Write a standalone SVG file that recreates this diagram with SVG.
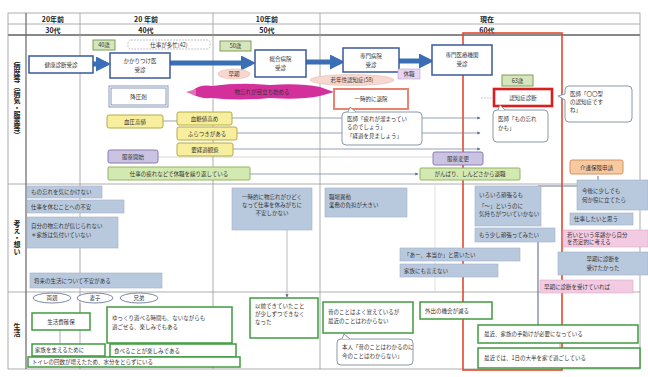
<svg xmlns="http://www.w3.org/2000/svg" width="648" height="377" viewBox="0 0 648 377">
<defs>
<style>
text{font-family:"Noto Sans CJK JP","Noto Sans",sans-serif;font-size:5.5px;fill:#333}
.hd{font-size:7px;font-weight:bold;fill:#222}
.vt{font-size:7px;font-weight:bold;fill:#222;writing-mode:vertical-rl;text-orientation:upright}
.grid{stroke:#9a9a9a;stroke-width:0.8;fill:none}
.node{fill:#fff;stroke:#3a5a9a;stroke-width:1.5}
.tag{fill:#d6e6bc;stroke:#7f9d55;stroke-width:1}
.pink{fill:#f6d8d0;stroke:#e8b8b0;stroke-width:0.6}
.yel{fill:#f7ef9e;stroke:#b5ab45;stroke-width:1}
.pur{fill:#cbc3e2;stroke:#8a7cb3;stroke-width:1}
.grn{fill:#d3e9b2;stroke:#93b463;stroke-width:1}
.blu{fill:#b9c9dd;stroke:#a0b0c8;stroke-width:0.6}
.pk2{fill:#f2cae2;stroke:#e0a8c8;stroke-width:0.6}
.gbox{fill:#fff;stroke:#3f9a3f;stroke-width:1.5}
.bub{fill:#fff;stroke:#8898a8;stroke-width:1}
.conn{stroke:#7a8aa8;stroke-width:0.8;fill:none}
</style>
<marker id="ah" viewBox="0 0 6 6" refX="5" refY="3" markerWidth="4" markerHeight="4" orient="auto"><path d="M0,0L6,3L0,6z" fill="#5a6a90"/></marker>
<marker id="bh" viewBox="0 0 6 6" refX="4" refY="3" markerWidth="3" markerHeight="3" orient="auto"><path d="M0,0L6,3L0,6z" fill="#3a6fb5"/></marker>
</defs>
<rect width="648" height="377" fill="#fff"/>

<!-- grid -->
<g id="grid">
<rect x="8" y="13" width="632" height="356" class="grid" stroke-width="1.2"/>
<line x1="8" y1="24" x2="640" y2="24" class="grid"/>
<line x1="8" y1="35" x2="640" y2="35" stroke="#888" stroke-width="2"/>
<line x1="8" y1="184" x2="640" y2="184" class="grid"/>
<line x1="8" y1="292" x2="640" y2="292" class="grid"/>
<line x1="26" y1="13" x2="26" y2="369" stroke="#666" stroke-width="1.2"/>
<line x1="80" y1="13" x2="80" y2="369" class="grid"/>
<line x1="213" y1="13" x2="213" y2="369" class="grid"/>
<line x1="320" y1="13" x2="320" y2="369" class="grid"/>
<line x1="435" y1="184" x2="435" y2="292" stroke="#ccc" stroke-width="0.6"/>
<text x="53" y="22" class="hd" text-anchor="middle">20年前</text>
<text x="53" y="33" class="hd" text-anchor="middle">30代</text>
<text x="146" y="22" class="hd" text-anchor="middle">20 年前</text>
<text x="146" y="33" class="hd" text-anchor="middle">40代</text>
<text x="267" y="22" class="hd" text-anchor="middle">10年前</text>
<text x="267" y="33" class="hd" text-anchor="middle">50代</text>
<text x="487" y="22" class="hd" text-anchor="middle">現在</text>
<text x="487" y="33" class="hd" text-anchor="middle">60代</text>
<text class="vt" x="17" y="62">病歴等（病気・服薬等）</text>
<text class="vt" x="17" y="220">考え・想い</text>
<text class="vt" x="17" y="323">生活</text>
</g>

<!-- red current frame -->
<rect x="463" y="33" width="99" height="337" fill="none" stroke="#e04a30" stroke-width="1.6"/>

<!-- connectors -->
<g id="connectors">
<line x1="93" y1="64" x2="106" y2="64" stroke="#3a6fb5" stroke-width="5" marker-end="url(#bh)"/>
<line x1="170" y1="63" x2="251" y2="63" stroke="#3a6fb5" stroke-width="5" marker-end="url(#bh)"/>
<line x1="306" y1="62" x2="340" y2="62" stroke="#3a6fb5" stroke-width="5" marker-end="url(#bh)"/>
<line x1="399" y1="61" x2="429" y2="61" stroke="#3a6fb5" stroke-width="5" marker-end="url(#bh)"/>
<line x1="163" y1="121" x2="177" y2="121" class="conn"/>
<line x1="232" y1="118" x2="480" y2="118" class="conn" marker-end="url(#ah)"/>
<line x1="237" y1="133" x2="480" y2="133" class="conn" marker-end="url(#ah)"/>
<line x1="233" y1="149" x2="480" y2="149" class="conn" marker-end="url(#ah)"/>
<line x1="250" y1="174" x2="418" y2="174" class="conn" marker-end="url(#ah)"/>
<line x1="158" y1="157" x2="432" y2="157" stroke="#aaa" stroke-width="0.5"/>
<line x1="481" y1="98" x2="493" y2="98" stroke="#9ab" stroke-width="0.6" stroke-dasharray="2,1"/>
<line x1="538" y1="242" x2="538" y2="325" stroke="#6a7a9a" stroke-width="1.2"/>
<line x1="538" y1="186" x2="598" y2="186" stroke="#6a7a9a" stroke-width="1.2"/>
<line x1="598" y1="186" x2="598" y2="176" stroke="#6a7a9a" stroke-width="1"/>
<line x1="287" y1="230" x2="287" y2="297" stroke="#aaa" stroke-width="0.8" marker-end="url(#ah)"/>
<line x1="80" y1="303" x2="80" y2="313" stroke="#999" stroke-width="0.8"/>
<line x1="60" y1="330" x2="60" y2="345" stroke="#999" stroke-width="0.8"/>
<line x1="560" y1="343" x2="560" y2="348" stroke="#999" stroke-width="0.8"/>
</g>

<!-- row 1 -->
<g id="n_kenshin"><rect x="29" y="56" width="64" height="17" class="node" stroke="#6a7a9a" stroke-width="1"/><text x="61" y="66.5" text-anchor="middle">健康診断受診</text></g>
<g id="n_kakari"><rect x="110" y="53" width="60" height="25" class="node"/><text x="140" y="63" text-anchor="middle">かかりつけ医</text><text x="140" y="72" text-anchor="middle">受診</text></g>
<g id="n_sougou"><rect x="255" y="50" width="51" height="27" class="node"/><text x="280.5" y="61" text-anchor="middle">総合病院</text><text x="280.5" y="70" text-anchor="middle">受診</text></g>
<g id="n_senmon"><rect x="343" y="48" width="56" height="24" class="node"/><text x="371" y="58" text-anchor="middle">専門病院</text><text x="371" y="67" text-anchor="middle">受診</text></g>
<g id="n_gairai"><rect x="432" y="45" width="60" height="30" class="node"/><text x="462" y="57" text-anchor="middle">専門医療機関</text><text x="462" y="66" text-anchor="middle">受診</text></g>

<g id="t_40"><rect x="93" y="40" width="22" height="10" class="tag"/><text x="104" y="47" text-anchor="middle">40歳</text></g>
<g id="t_work"><rect x="128" y="40" width="82" height="9" rx="3" fill="#fff" stroke="#aaa" stroke-width="0.7" stroke-dasharray="2,1"/><text x="169" y="46.8" text-anchor="middle">仕事が多忙(42)</text></g>
<g id="t_50"><rect x="220" y="41" width="31" height="10" class="tag"/><text x="235.5" y="48" text-anchor="middle">50歳</text></g>
<g id="t_63"><rect x="502" y="75" width="31" height="11" class="tag"/><text x="517.5" y="82.5" text-anchor="middle">63歳</text></g>

<g id="o_souki"><ellipse cx="234" cy="74" rx="16" ry="5" class="pink"/><text x="234" y="76" text-anchor="middle">早期</text></g>
<g id="o_jakunen"><ellipse cx="352" cy="80" rx="42" ry="5.5" class="pink"/><text x="352" y="82" text-anchor="middle">若年性認知症(58)</text></g>
<g id="o_seishin"><rect x="398" y="69" width="22" height="10" fill="#e6d6f2" stroke="#b8a0d0" stroke-width="0.6"/><text x="409" y="76" text-anchor="middle">休職</text></g>

<g id="n_flame"><path d="M192,91 Q200,84 212,86 Q240,82 270,85 Q300,83 320,87 L334,92 L320,96 Q300,100 270,98 Q240,101 212,98 Q200,99 192,94 Z" fill="#d4309c"/><path d="M186,92 L196,89 L196,96 Z" fill="#e070b8"/><text x="262" y="94" text-anchor="middle" fill="#fff">物忘れが目立ち始める</text></g>

<g id="n_kouatsu"><rect x="110" y="87" width="57" height="19" fill="#fff" stroke="#8a98b8" stroke-width="3"/><rect x="110" y="87" width="57" height="19" fill="none" stroke="#fff" stroke-width="1"/><text x="138.5" y="98.5" text-anchor="middle">降圧剤</text></g>
<g id="n_taiin"><rect x="334" y="89" width="74" height="20" fill="#fff" stroke="#e9826e" stroke-width="2"/><text x="371" y="101" text-anchor="middle">一時的に退院</text></g>
<g id="n_shindan"><rect x="494" y="89" width="58" height="17" fill="#fff" stroke="#d81e1e" stroke-width="2.6"/><text x="523" y="99.5" text-anchor="middle">認知症診断</text></g>

<g id="b_ishi1"><path d="M569,86 H628 Q632,86 632,90 V118 Q632,122 628,122 H569 Q565,122 565,118 V100 L558,96 L565,94 V90 Q565,86 569,86 Z" class="bub"/><text x="570" y="96">医師「〇〇型</text><text x="570" y="104">の認知症です</text><text x="570" y="112">ね」</text></g>
<g id="b_ishi2"><path d="M497,110 H544 Q548,110 548,114 V138 Q548,142 544,142 H497 Q493,142 493,138 V114 Q493,110 497,110 Z" class="bub"/><path d="M498,110 L500,105 L505,110" class="bub"/><text x="498" y="121">医師「もの忘れ</text><text x="498" y="130">かも」</text></g>
<g id="b_ishi3"><path d="M346,112 H418 Q422,112 422,116 V141 Q422,145 418,145 H346 Q342,145 342,141 V116 Q342,112 346,112 Z" class="bub"/><path d="M348,112 L350,107 L356,112" class="bub"/><text x="347" y="121">医師「疲れが溜まってい</text><text x="347" y="129">るのでしょう」</text><text x="347" y="138">「経過を見ましょう」</text></g>

<g id="y_1"><rect x="107" y="115" width="56" height="13" rx="2" class="yel"/><text x="135" y="123.5" text-anchor="middle">血圧高値</text></g>
<g id="y_2"><rect x="177" y="112" width="55" height="13" rx="2" class="yel"/><text x="204.5" y="120.5" text-anchor="middle">血糖値高め</text></g>
<g id="y_3"><rect x="177" y="127" width="60" height="13" rx="2" class="yel"/><text x="207" y="135.5" text-anchor="middle">ふらつきがある</text></g>
<g id="y_4"><rect x="177" y="143" width="56" height="13" rx="2" class="yel"/><text x="205" y="151.5" text-anchor="middle">要経過観察</text></g>

<g id="p_1"><rect x="108" y="150" width="50" height="13" rx="2" class="pur"/><text x="133" y="158.5" text-anchor="middle">服薬開始</text></g>
<g id="p_2"><rect x="433" y="152" width="50" height="13" rx="2" class="pur"/><text x="458" y="160.5" text-anchor="middle">服薬変更</text></g>
<g id="g_1"><rect x="108" y="167" width="142" height="13" rx="1" class="grn"/><text x="179" y="175.5" text-anchor="middle">仕事の疲れなどで休職を繰り返している</text></g>
<g id="g_2"><rect x="420" y="168" width="100" height="12" rx="1" class="grn"/><text x="470" y="176" text-anchor="middle">がんばり、しんどさから退職</text></g>
<g id="o_kaigo"><rect x="570" y="160" width="53" height="14" rx="2" fill="#f8c9a0" stroke="#d4925e" stroke-width="1"/><text x="596.5" y="169.5" text-anchor="middle">介護保険申請</text></g>

<!-- row 2 -->
<g id="k_1"><rect x="27" y="186" width="75" height="12" class="blu"/><text x="31" y="194">もの忘れを気にかけない</text></g>
<g id="k_2"><rect x="27" y="200" width="97" height="13" class="blu"/><text x="31" y="208.5">仕事を休むことへの不安</text></g>
<g id="k_3"><rect x="27" y="217" width="91" height="31" class="blu"/><text x="31" y="228">自分の物忘れが信じられない</text><text x="31" y="237">＊家族は気付いていない</text></g>
<g id="k_4"><rect x="30" y="273" width="132" height="15" class="blu"/><text x="34" y="282.5">将来の生活について不安がある</text></g>
<g id="k_5"><rect x="232" y="188" width="80" height="42" class="blu"/><text x="272" y="199" text-anchor="middle">一時的に物忘れがひどく</text><text x="272" y="207" text-anchor="middle">なって仕事を休みがちに</text><text x="272" y="215" text-anchor="middle">不安しかない</text></g>
<g id="k_6"><rect x="325" y="188" width="82" height="29" class="blu"/><text x="329" y="199">職場異動</text><text x="329" y="207">業務の負担が大きい</text></g>
<g id="k_7"><rect x="400" y="248" width="120" height="13" class="blu"/><text x="404" y="256.5">「あー、本当か」と思いたい</text></g>
<g id="k_8"><rect x="400" y="264" width="98" height="13" class="blu"/><text x="404" y="272.5">家族にも言えない</text></g>
<g id="k_9"><rect x="475" y="186" width="66" height="40" class="blu"/><text x="479" y="197">いろいろ頑張るも</text><text x="479" y="208">「〜」というのに</text><text x="479" y="216">気持ちがついていかない</text></g>
<g id="k_10"><rect x="475" y="228" width="80" height="14" class="blu"/><text x="479" y="237">もう少し頑張ってみたい</text></g>
<g id="k_11"><rect x="577" y="180" width="71" height="30" class="blu"/><text x="582" y="193">今後に少しでも</text><text x="582" y="202">何か役に立てたら</text></g>
<g id="k_12"><rect x="570" y="213" width="63" height="12" class="blu"/><text x="574" y="221">仕事したいと思う</text></g>
<g id="k_13"><rect x="563" y="230" width="85" height="17" class="pk2"/><text x="567" y="237">若いという年齢から自分</text><text x="567" y="244">を否定的に考える</text></g>
<g id="k_14"><rect x="558" y="252" width="90" height="23" class="blu"/><text x="603" y="261" text-anchor="middle">早期に診断を</text><text x="603" y="270" text-anchor="middle">受けたかった</text></g>
<g id="k_15"><rect x="540" y="280" width="93" height="13" class="pk2"/><text x="544" y="288.5">早期に診断を受けていれば</text></g>

<!-- row 3 -->
<g id="e_1"><ellipse cx="52" cy="298" rx="19" ry="5" fill="#fff" stroke="#6a7a9a" stroke-width="0.9"/><text x="52" y="300" text-anchor="middle">両親</text></g>
<g id="e_2"><ellipse cx="95" cy="298" rx="18" ry="5" fill="#fff" stroke="#6a7a9a" stroke-width="0.9"/><text x="95" y="300" text-anchor="middle">妻子</text></g>
<g id="e_3"><ellipse cx="139" cy="298" rx="19" ry="5" fill="#fff" stroke="#6a7a9a" stroke-width="0.9"/><text x="139" y="300" text-anchor="middle">兄弟</text></g>
<g id="s_1"><rect x="32" y="313" width="58" height="17" class="gbox"/><text x="61" y="323.5" text-anchor="middle">生活費確保</text></g>
<g id="s_2"><rect x="107" y="307" width="125" height="36" class="gbox"/><text x="112" y="320">ゆっくり遊べる時間も、ないながらも</text><text x="112" y="329">過ごせる、楽しみでもある</text></g>
<g id="s_3"><rect x="32" y="344" width="73" height="12" class="gbox"/><text x="35" y="352">家族を支えるために</text></g>
<g id="s_4"><rect x="110" y="344" width="126" height="13" class="gbox"/><text x="114" y="352.5">食べることが楽しみである</text></g>
<g id="s_5"><rect x="28" y="357" width="212" height="10" class="gbox"/><text x="32" y="364">トイレの回数が増えたため、水分をとらずにいる</text></g>
<g id="s_6"><rect x="250" y="298" width="68" height="40" class="gbox"/><text x="255" y="308">以前できていたこと</text><text x="255" y="316">が少しずつできなく</text><text x="255" y="324">なった</text></g>
<g id="s_7"><rect x="323" y="302" width="90" height="31" class="gbox"/><text x="328" y="314">昔のことはよく覚えているが</text><text x="328" y="323">最近のことはわからない</text></g>
<g id="b_honnin"><path d="M341,339 H409 Q413,339 413,343 V361 Q413,365 409,365 H341 Q337,365 337,361 V343 Q337,339 341,339 Z" class="bub"/><path d="M342,339 L344,334 L350,339" class="bub"/><text x="342" y="349">本人「昔のことはわかるのに</text><text x="342" y="358">今のことはわからない」</text></g>
<g id="s_8"><rect x="420" y="302" width="72" height="17" class="gbox"/><text x="425" y="312.5">外出の機会が減る</text></g>
<g id="s_9"><rect x="478" y="325" width="160" height="18" class="gbox"/><text x="484" y="336">最近、家族の手助けが必要になっている</text></g>
<g id="s_10"><rect x="478" y="348" width="162" height="20" class="gbox"/><text x="484" y="360">最近では、1日の大半を家で過ごしている</text></g>
</svg>
